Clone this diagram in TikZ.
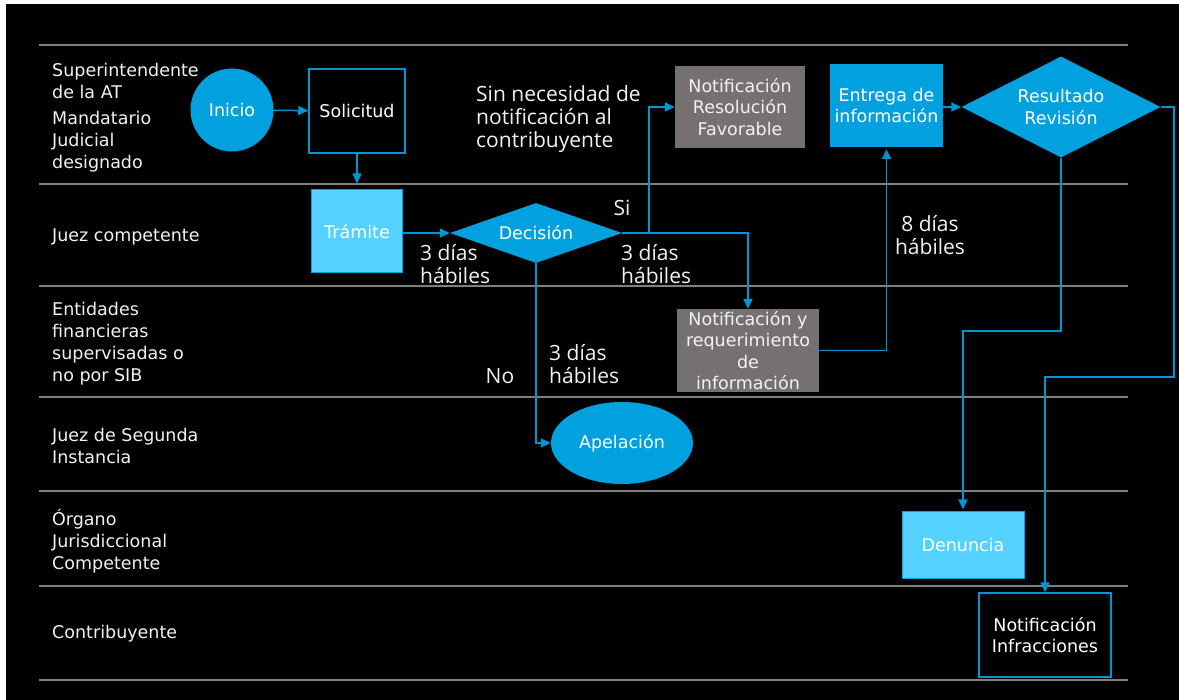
\documentclass[tikz,border=0pt]{standalone}
\usepackage{fontspec}
\setmainfont{DejaVu Sans}
\newfontfamily\osans{Open Sans}
\usetikzlibrary{shapes.geometric,arrows.meta,calc}
\definecolor{midblue}{RGB}{0,161,222}
\definecolor{lightblue}{RGB}{85,209,255}
\definecolor{boxgray}{RGB}{118,113,113}
\definecolor{conn}{RGB}{0,150,210}
\definecolor{lanegray}{RGB}{128,128,128}
\definecolor{txt}{RGB}{242,242,242}
\tikzset{
  lane/.style={draw=lanegray, line width=2pt},
  lanelabel/.style={anchor=west, align=left, inner sep=0pt, text=txt,
    font=\fontsize{17.5}{22}\selectfont},
  nodetext/.style={text=white, align=center, inner sep=0pt,
    font=\fontsize{17.5}{21.5}\selectfont},
  bluecircle/.style={nodetext, circle, fill=midblue},
  outlinebox/.style={nodetext, rectangle, draw=conn, line width=1.5pt, fill=black},
  lightbox/.style={nodetext, rectangle, fill=lightblue, draw=midblue, line width=1pt},
  graybox/.style={nodetext, rectangle, fill=boxgray, text=txt},
  bluebox/.style={nodetext, rectangle, fill=midblue},
  bluediamond/.style={nodetext, diamond, fill=midblue},
  note/.style={text=txt, align=left, inner sep=0pt,
    font=\osans\fontsize{21}{23}\selectfont},
  connector/.style={draw=conn, line width=1.5pt,
    -{Triangle[length=10pt,width=9pt]}},
  plainconn/.style={draw=conn, line width=1.5pt}
}
\begin{document}
\begin{tikzpicture}[x=1pt,y=-1pt]
\useasboundingbox (0,0) rectangle (1179,700);
\fill[white] (0,0) rectangle (1179,700);
\fill[black] (6,4) rectangle (1179,700);

% lanes
\foreach \yy in {45,184,286,397,491,586,680}
  \draw[lane] (39,\yy) -- (1128,\yy);

% lane labels
\node[lanelabel] (l1a) at (52,80.5) {Superintendente\\de la AT};
\node[lanelabel] (l1b) at (52,141.5) {Mandatario\\Judicial\\designado};
\node[lanelabel] (l2) at (52,237) {Juez competente};
\node[lanelabel] (l3) at (52,344) {Entidades\\financieras\\supervisadas o\\no por SIB};
\node[lanelabel] (l4) at (52,446) {Juez de Segunda\\Instancia};
\node[lanelabel] (l5) at (52,541) {Órgano\\Jurisdiccional\\Competente};
\node[lanelabel] (l6) at (52,634) {Contribuyente};

% nodes
\node[bluecircle, minimum size=83pt] (ini) at (232,110) {Inicio};
\node[outlinebox, minimum width=96pt, minimum height=84pt] (sol) at (357,111) {Solicitud};
\node[lightbox, minimum width=91pt, minimum height=83pt] (tra) at (357,231.5) {Trámite};
\node[bluediamond, minimum width=172pt, minimum height=60pt, shape aspect=2.8] (dec) at (536,233) {Decisión};
\node[graybox, minimum width=130pt, minimum height=82pt] (nrf) at (740,107) {Notificación\\Resolución\\Favorable};
\node[graybox, minimum width=142pt, minimum height=83pt] (nyr) at (748,350.5) {Notificación y\\requerimiento\\de\\información};
\node[bluebox, minimum width=113pt, minimum height=83pt] (ent) at (886.5,105.5) {Entrega de\\información};
\node[bluediamond, minimum width=199pt, minimum height=101pt, shape aspect=2] (res) at (1061,107) {Resultado\\Revisión};
\node[lightbox, minimum width=122pt, minimum height=66pt] (den) at (963,545) {Denuncia};
\node[outlinebox, minimum width=132pt, minimum height=84pt] (nin) at (1045,635) {Notificación\\Infracciones};
\node[nodetext, ellipse, fill=midblue, minimum width=142pt, minimum height=82pt] (ape) at (622,443) {Apelación};

% notes
\node[note, anchor=west] (sinnec) at (476,119) {Sin necesidad de\\notificación al\\contribuyente};
\node[note, anchor=west] (d1) at (420,264) {3 días\\hábiles};
\node[note] (si) at (622,208) {Si};
\node[note, anchor=west] (d2) at (621,264) {3 días\\hábiles};
\node[note] (no) at (500,376) {No};
\node[note, anchor=west] (d3) at (549,364) {3 días\\hábiles};
\node[note, align=center] (d4) at (930,235) {8 días\\hábiles};

% helper coordinates
\coordinate (k1) at (1174,377);
\coordinate (k2) at (1061,331);

% connectors
\draw[connector] (ini) -- (sol);
\draw[connector, shorten >=6pt] (sol.south) -- (tra.north);
\draw[connector] (dec.west -| tra.east) -- (dec.west);
\draw[connector] (dec.east) -- ++(27,0) |- (nrf.west);
\draw[connector] (dec.east) -| (nyr.north);
\draw[connector] (dec.south) |- (ape.west);
\draw[connector, shorten >=2pt] (nyr.east) -| (ent.south);
\draw[connector] (res.west -| ent.east) -- (res.west);
\draw[connector, shorten >=2pt] (res.south) -- (k2) -| (den.north);
\draw[connector] (res.east) -| (k1) -| (nin.north);
\end{tikzpicture}
\end{document}
